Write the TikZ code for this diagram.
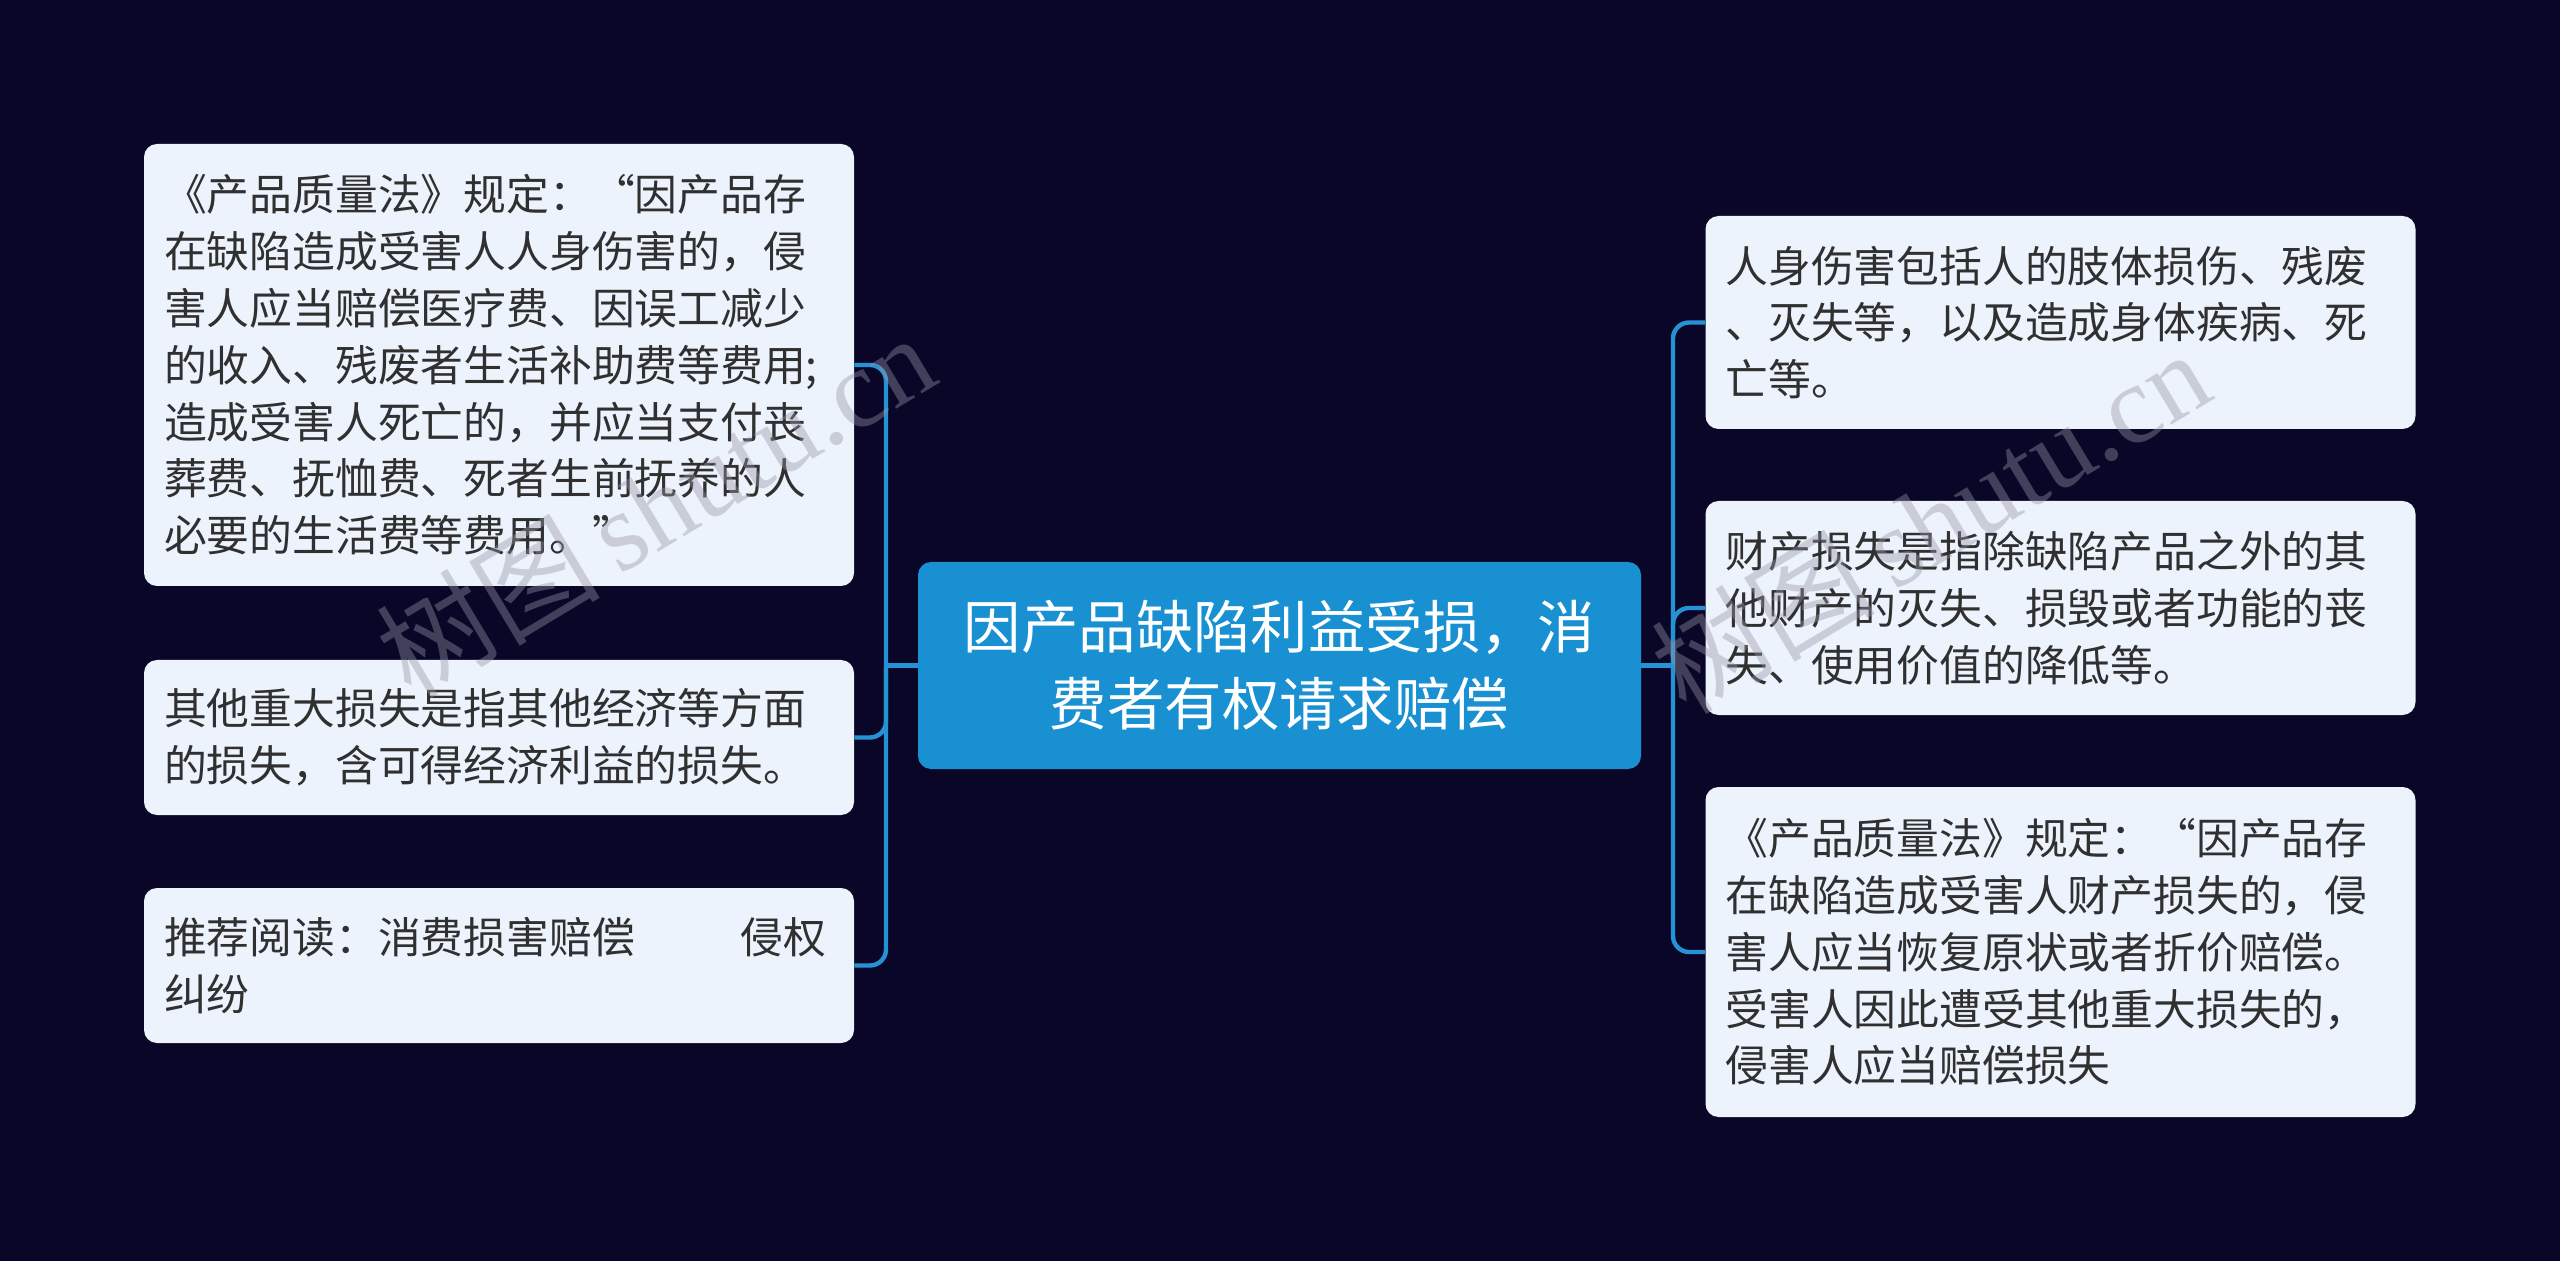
\documentclass[tikz,border=0pt]{standalone}
\usepackage{fontspec}
\setmainfont{Noto Sans CJK SC}
\newfontfamily\wmlatin{Liberation Serif}
\newfontfamily\wmcjk{Noto Sans CJK SC}
\definecolor{bg}{RGB}{10,6,40}
\definecolor{leaffill}{RGB}{237,243,253}
\definecolor{leaftext}{RGB}{48,48,48}
\definecolor{rootfill}{RGB}{25,144,210}
\definecolor{linecol}{RGB}{38,146,214}
\definecolor{wmcol}{RGB}{150,150,165}
\tikzset{
  leaf/.style={fill=leaffill, rounded corners=6.5pt, text=leaftext, align=left,
    inner xsep=10pt, inner ysep=0pt, text width=335pt,
    font=\fontsize{21.4pt}{28.4pt}\selectfont},
  rootbox/.style={fill=rootfill, rounded corners=6.5pt, text=white, align=center,
    inner sep=0pt, minimum width=361.5pt, minimum height=103.5pt,
    font=\fontsize{28.7pt}{38.4pt}\selectfont},
  conn/.style={draw=linecol, line width=2.2pt, rounded corners=8pt},
  wm/.style={text=wmcol, opacity=0.4, rotate=31, inner sep=0pt}
}
\begin{document}
\begin{tikzpicture}[x=0.5pt,y=-0.5pt]
\fill[bg] (0,0) rectangle (2560,1261);
\useasboundingbox (0,0) rectangle (2560,1261);

% root
\node[rootbox] (C) at (1279.5,665.5) {因产品缺陷利益受损，消\\费者有权请求赔偿};

% left leaves
\node[leaf, minimum height=221pt] (L1) at (499,365) {《产品质量法》规定：“因产品存\\在缺陷造成受害人人身伤害的，侵\\害人应当赔偿医疗费、因误工减少\\的收入、残废者生活补助费等费用;\\造成受害人死亡的，并应当支付丧\\葬费、抚恤费、死者生前抚养的人\\必要的生活费等费用。”};
\node[leaf, minimum height=77.5pt] (L2) at (499,737.5) {其他重大损失是指其他经济等方面\\的损失，含可得经济利益的损失。};
\node[leaf, minimum height=77.5pt] (L3) at (499,965.5) {推荐阅读：消费损害赔偿\hspace{53pt}侵权\\纠纷};

% right leaves
\node[leaf, minimum height=106.5pt] (R1) at (2060.5,322.5) {人身伤害包括人的肢体损伤、残废\\、灭失等，以及造成身体疾病、死\\亡等。};
\node[leaf, minimum height=107pt] (R2) at (2060.5,608) {财产损失是指除缺陷产品之外的其\\他财产的灭失、损毁或者功能的丧\\失、使用价值的降低等。};
\node[leaf, minimum height=165pt] (R3) at (2060.5,952) {《产品质量法》规定：“因产品存\\在缺陷造成受害人财产损失的，侵\\害人应当恢复原状或者折价赔偿。\\受害人因此遭受其他重大损失的，\\侵害人应当赔偿损失};

% connectors
\coordinate (TL) at (886,665.5);
\coordinate (TR) at (1673,665.5);
\draw[conn, rounded corners=0pt] (C.west) -- (TL);
\draw[conn] (TL) |- (L1.east);
\draw[conn] (TL) |- (L2.east);
\draw[conn] (TL) |- (L3.east);
\draw[conn, rounded corners=0pt] (C.east) -- (TR);
\draw[conn] (TR) |- (R1.west);
\draw[conn] (TR) |- (R2.west);
\draw[conn] (TR) |- (R3.west);

% watermark
\node[wm] (W1) at (655,505) {\fontsize{56pt}{60pt}\selectfont\wmcjk 树图\,\wmlatin shutu.cn};
\node[wm] (W2) at (1930,521) {\fontsize{56pt}{60pt}\selectfont\wmcjk 树图\,\wmlatin shutu.cn};
\end{tikzpicture}
\end{document}
